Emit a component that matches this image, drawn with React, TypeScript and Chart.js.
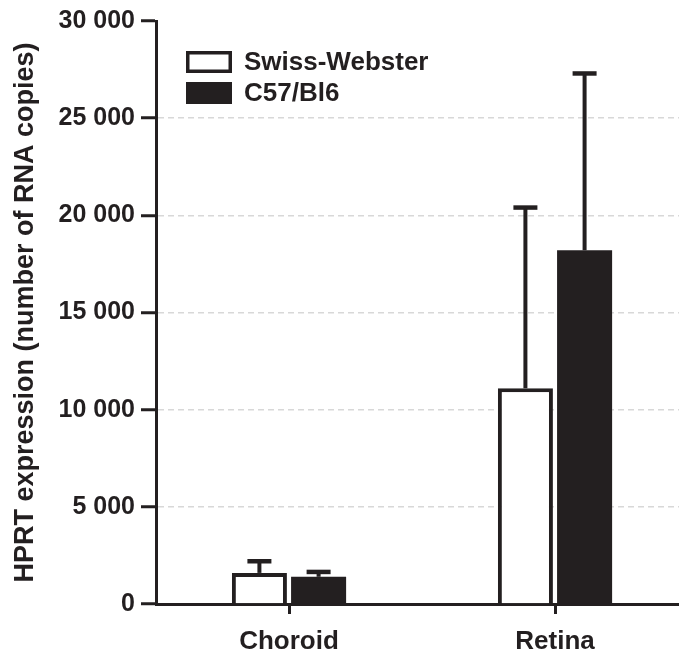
import { useEffect, useRef } from "react";
import { Chart, registerables } from "chart.js";

Chart.register(...registerables);

const categories = ["Choroid", "Retina"];
const seriesNames = ["Swiss-Webster", "C57/Bl6"];
const swissMeans = [1600, 11100];
const swissErrors = [600, 9300];
const c57Means = [1400, 18200];
const c57Errors = [250, 9100];
const yMin = 0;
const yMax = 30000;
const yStep = 5000;
const yTitle = "HPRT expression (number of RNA copies)";

const INK = "#231f20";
const FONT = "'Liberation Sans', Arial, Helvetica, sans-serif";

const fmt = (v: number) => String(v).replace(/\B(?=(\d{3})+(?!\d))/g, " ");

const errorBarPlugin = {
  id: "errorBars",
  afterDatasetsDraw(chart: any) {
    const ctx = chart.ctx;
    const yScale = chart.scales.y;
    chart.data.datasets.forEach((ds: any, di: number) => {
      const meta = chart.getDatasetMeta(di);
      meta.data.forEach((el: any, i: number) => {
        const top = ds.data[i] + ds.errors[i];
        const yTop = yScale.getPixelForValue(top);
        const x = el.x;
        ctx.save();
        ctx.strokeStyle = INK;
        ctx.lineWidth = 4;
        ctx.beginPath();
        ctx.moveTo(x, el.y);
        ctx.lineTo(x, yTop);
        ctx.stroke();
        ctx.lineWidth = 4.5;
        ctx.beginPath();
        ctx.moveTo(x - 12, yTop);
        ctx.lineTo(x + 12, yTop);
        ctx.stroke();
        ctx.restore();
      });
    });
  },
};

const legendPlugin = {
  id: "insideLegend",
  afterDraw(chart: any) {
    const ctx = chart.ctx;
    const area = chart.chartArea;
    const x0 = area.left + 30;
    let y0 = area.top + 30;
    ctx.save();
    chart.data.datasets.forEach((ds: any) => {
      const w = 46;
      const h = 22;
      if (ds.backgroundColor === "#ffffff") {
        ctx.fillStyle = "#ffffff";
        ctx.fillRect(x0, y0, w, h);
        ctx.strokeStyle = INK;
        ctx.lineWidth = 3.5;
        ctx.strokeRect(x0 + 1.75, y0 + 1.75, w - 3.5, h - 3.5);
      } else {
        ctx.fillStyle = INK;
        ctx.fillRect(x0, y0, w, h);
      }
      ctx.fillStyle = INK;
      ctx.font = `bold 26px ${FONT}`;
      ctx.textBaseline = "middle";
      ctx.textAlign = "left";
      ctx.fillText(ds.label, x0 + w + 12, y0 + h / 2 + 1);
      y0 += 31;
    });
    ctx.restore();
  },
};

export default function App() {
  const ref = useRef<HTMLCanvasElement | null>(null);

  useEffect(() => {
    if (!ref.current) return;
    const chart = new Chart(ref.current, {
      type: "bar",
      data: {
        labels: categories,
        datasets: [
          {
            label: seriesNames[0],
            data: swissMeans,
            errors: swissErrors,
            backgroundColor: "#ffffff",
            borderColor: INK,
            borderWidth: 4,
            borderSkipped: "start",
          } as any,
          {
            label: seriesNames[1],
            data: c57Means,
            errors: c57Errors,
            backgroundColor: INK,
            borderColor: INK,
            borderWidth: 0,
          } as any,
        ],
      },
      options: {
        animation: false,
        responsive: true,
        maintainAspectRatio: false,
        datasets: { bar: { categoryPercentage: 0.445, barPercentage: 0.93 } },
        layout: { padding: { top: 21, right: 12, left: 0, bottom: 0 } },
        plugins: {
          legend: { display: false },
          tooltip: { enabled: false },
        },
        scales: {
          x: {
            grid: {
              offset: false,
              drawOnChartArea: false,
              drawTicks: true,
              tickLength: 10,
              tickWidth: 3,
              tickColor: INK,
            },
            border: { display: true, color: INK, width: 3 },
            ticks: {
              color: INK,
              padding: 12,
              font: { family: FONT, size: 26, weight: "bold" },
            },
            afterFit(scale: any) {
              scale.height = 55;
            },
          },
          y: {
            min: yMin,
            max: yMax,
            ticks: {
              stepSize: yStep,
              color: INK,
              padding: 6,
              font: { family: FONT, size: 25, weight: "bold" },
              callback: (v: any) => fmt(Number(v)),
            },
            grid: {
              color: (c: any) =>
                c.tick && (c.tick.value === yMin || c.tick.value === yMax) ? "rgba(0,0,0,0)" : "#d8d8d8",
              lineWidth: 1.5,
              drawTicks: true,
              tickLength: 15,
              tickWidth: 3,
              tickColor: INK,
              tickBorderDash: [],
            },
            border: { display: true, color: INK, width: 3, dash: [6, 4] },
            title: {
              display: true,
              text: yTitle,
              color: INK,
              padding: { top: 9, bottom: 0 },
              font: { family: FONT, size: 27, weight: "bold" },
            },
            afterFit(scale: any) {
              scale.width = 156;
            },
          },
        },
      },
      plugins: [errorBarPlugin, legendPlugin],
    } as any);
    return () => chart.destroy();
  }, []);

  return (
    <div
      style={{
        position: "absolute",
        left: 0,
        top: 0,
        width: 679,
        height: 659,
        overflow: "hidden",
        background: "#ffffff",
      }}
    >
      <div style={{ position: "relative", width: 700, height: 659 }}>
        <canvas ref={ref} />
      </div>
    </div>
  );
}
